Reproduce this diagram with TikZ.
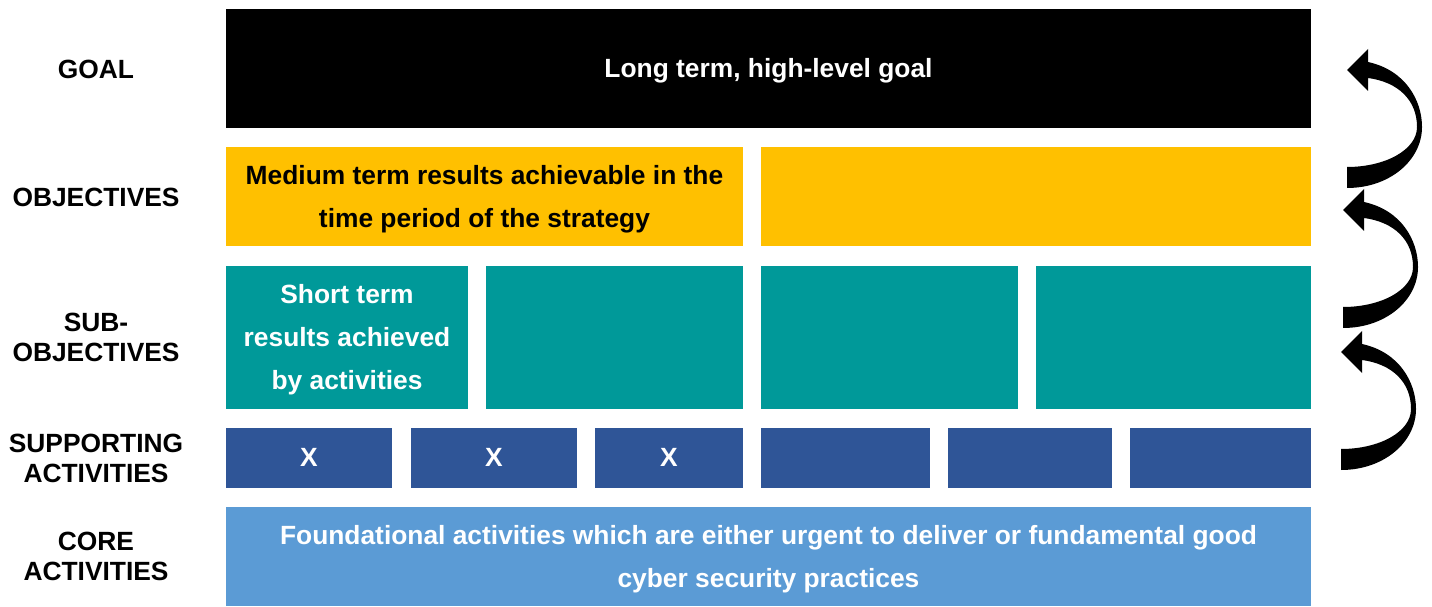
\documentclass[tikz,border=0pt]{standalone}
\usepackage{fontspec}
\setmainfont{Liberation Sans}
\definecolor{objyellow}{HTML}{FFC000}
\definecolor{subteal}{HTML}{009999}
\definecolor{supblue}{HTML}{2F5597}
\definecolor{coreblue}{HTML}{5B9BD5}

\begin{document}
\begin{tikzpicture}[scale=2,
   lbl/.style={font=\bfseries\fontsize{15}{17}\selectfont, align=center},
   txt/.style={font=\bfseries\fontsize{15}{24.5}\selectfont, align=center, yshift=-1.3pt},
   mark x/.style={font=\bfseries\fontsize{15}{17}\selectfont, text=white, yshift=0.4pt},
   turnarrow/.pic={\fill (0,0) -- (0.21,0.21) -- (0.21,0.08)
      .. controls (0.58,0) and (0.75,-0.30) .. (0.75,-0.57)
      .. controls (0.75,-0.90) and (0.43,-1.18) .. (0,-1.18)
      -- (0,-0.97)
      .. controls (0.38,-0.97) and (0.70,-0.80) .. (0.70,-0.57)
      .. controls (0.70,-0.30) and (0.51,-0.12) .. (0.21,-0.08)
      -- (0.21,-0.21) -- cycle;}]%
   \useasboundingbox (0,0) rectangle (14.32,6.06);
   % row labels
   \draw (0.96,5.37) node[lbl] (lgoal) {GOAL};
   \draw (0.96,4.09) node[lbl] (lobj) {OBJECTIVES};
   \draw (0.96,2.69) node[lbl] (lsub) {SUB-\\OBJECTIVES};
   \draw (0.96,1.48) node[lbl] (lsup) {SUPPORTING\\ACTIVITIES};
   \draw (0.96,0.50) node[lbl] (lcore) {CORE\\ACTIVITIES};
   % goal
   \fill[black] (2.26,4.78) rectangle (13.11,5.97) node[midway, txt, text=white] (goal) {Long term, high-level goal};
   % objectives
   \fill[objyellow] (2.26,3.60) rectangle (7.43,4.59) node[midway, txt, text=black] (obj1) {Medium term results achievable in the\\time period of the strategy};
   \fill[objyellow] (7.61,3.60) rectangle (13.11,4.59);
   % sub-objectives
   \fill[subteal] (2.26,1.97) rectangle (4.68,3.40) node[midway, txt, text=white] (sub1) {Short term\\results achieved\\by activities};
   \fill[subteal] (4.86,1.97) rectangle (7.43,3.40);
   \fill[subteal] (7.61,1.97) rectangle (10.18,3.40);
   \fill[subteal] (10.36,1.97) rectangle (13.11,3.40);
   % supporting activities
   \fill[supblue] (2.26,1.18) rectangle (3.92,1.78) node[midway, mark x] (sup1) {X};
   \fill[supblue] (4.11,1.18) rectangle (5.77,1.78) node[midway, mark x] (sup2) {X};
   \fill[supblue] (5.95,1.18) rectangle (7.43,1.78) node[midway, mark x] (sup3) {X};
   \fill[supblue] (7.61,1.18) rectangle (9.30,1.78);
   \fill[supblue] (9.48,1.18) rectangle (11.12,1.78);
   \fill[supblue] (11.30,1.18) rectangle (13.11,1.78);
   % core activities
   \fill[coreblue] (2.26,0) rectangle (13.11,0.99) node[midway, txt, text=white] (core) {Foundational activities which are either urgent to deliver or fundamental good\\cyber security practices};
   % turning arrows
   \pic[scale=2] at (13.47,5.36) {turnarrow};
   \pic[scale=2] at (13.43,3.96) {turnarrow};
   \pic[scale=2] at (13.41,2.54) {turnarrow};
\end{tikzpicture}
\end{document}
